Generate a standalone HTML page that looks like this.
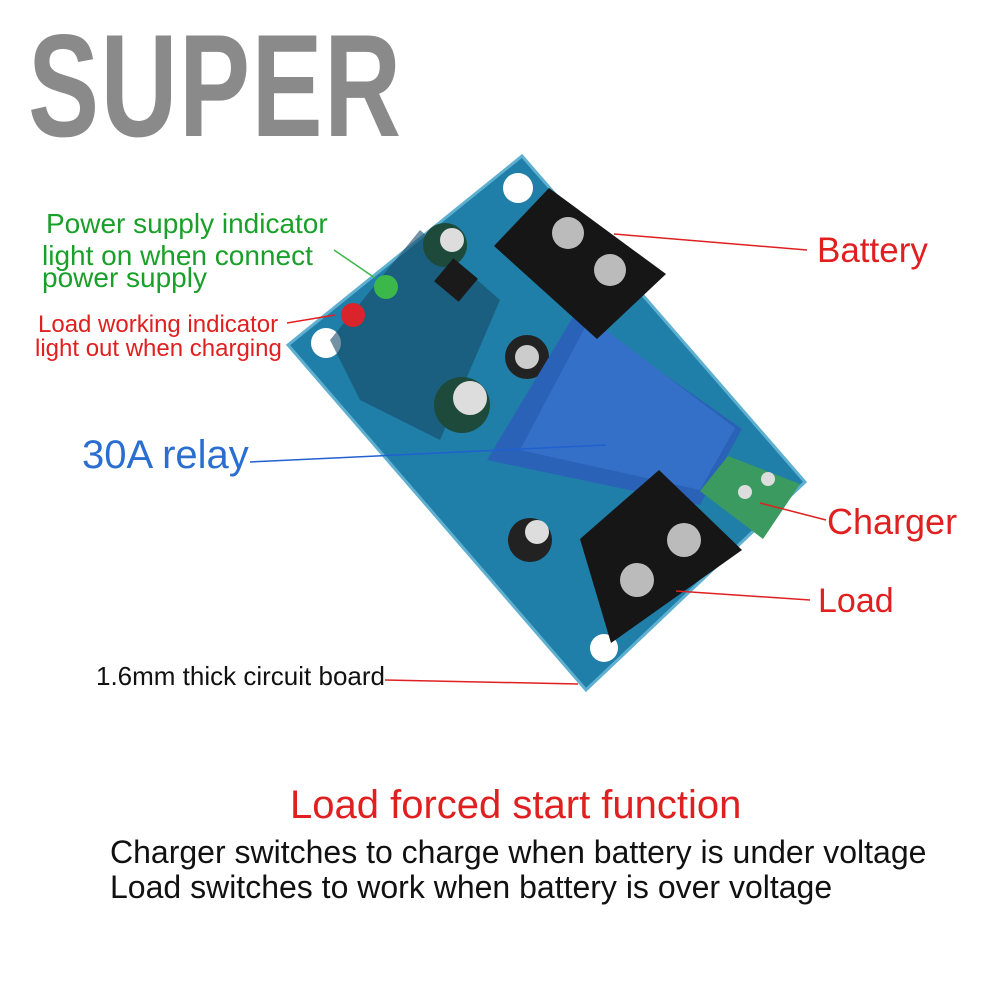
<!DOCTYPE html>
<html><head><style>
body{margin:0;width:1001px;height:1001px;background:#fff;position:relative;overflow:hidden;font-family:"Liberation Sans",sans-serif}
.t{position:absolute;white-space:nowrap}
</style></head><body>
<div class="t" style="left:28px;top:2px;font-size:146px;font-weight:bold;color:#8a8a8a;letter-spacing:2px;transform:scaleX(0.73);transform-origin:left top">SUPER</div>
<svg width="1001" height="1001" style="position:absolute;left:0;top:0">
<polygon points="522,156 805,482 586,690 288,345" fill="#1f7fa8"/>
<polygon points="522,156 805,482 586,690 288,345" fill="none" stroke="#5fb0d0" stroke-width="3"/>
<circle cx="518" cy="188" r="15" fill="#fff"/><circle cx="326" cy="343" r="15" fill="#fff"/><circle cx="604" cy="648" r="14" fill="#fff"/>
<polygon points="420,230 500,300 440,440 360,400 330,340" fill="#174a66" opacity="0.6"/>
<circle cx="445" cy="245" r="22" fill="#1d4a3a"/><circle cx="452" cy="240" r="12" fill="#ddd"/>
<circle cx="462" cy="405" r="28" fill="#1d4a3a"/><circle cx="470" cy="398" r="17" fill="#ddd"/>
<circle cx="527" cy="357" r="22" fill="#222"/><circle cx="527" cy="357" r="12" fill="#ccc"/>
<circle cx="530" cy="540" r="22" fill="#222"/><circle cx="537" cy="532" r="12" fill="#ddd"/>
<rect x="440" y="265" width="32" height="30" fill="#1a1a1a" transform="rotate(40 456 280)"/>
<circle cx="353" cy="315" r="12" fill="#d8242a"/><circle cx="386" cy="287" r="12" fill="#3cb84a"/>
<polygon points="576,312 742,429 700,505 487,460" fill="#2a62b8"/>
<polygon points="590,318 735,428 700,490 520,450" fill="#3570c8"/>
<polygon points="494,246 549,188 666,274 597,339" fill="#161616"/>
<circle cx="568" cy="233" r="16" fill="#bbb"/><circle cx="610" cy="270" r="16" fill="#bbb"/>
<polygon points="700,491 728,456 800,484 763,539" fill="#3a9a60"/>
<circle cx="745" cy="492" r="7" fill="#ddd"/><circle cx="768" cy="479" r="7" fill="#ddd"/>
<polygon points="580,539 659,470 742,550 611,643" fill="#161616"/>
<circle cx="637" cy="580" r="17" fill="#bbb"/><circle cx="684" cy="540" r="17" fill="#bbb"/>
<g stroke-width="1.5" fill="none">
<line x1="614" y1="234" x2="807" y2="250" stroke="#e02020"/>
<line x1="760" y1="503" x2="826" y2="520" stroke="#e02020"/>
<line x1="676" y1="591" x2="810" y2="600" stroke="#e02020"/>
<line x1="385" y1="680" x2="578" y2="684" stroke="#e02020"/>
<line x1="287" y1="323" x2="335" y2="315" stroke="#e02020"/>
<line x1="334" y1="250" x2="375" y2="278" stroke="#3cb84a"/>
<line x1="250" y1="462" x2="606" y2="445" stroke="#2060d0"/>
</g>
</svg>
<div class="t" style="left:46px;top:208px;font-size:28px;color:#1aa02a">Power supply indicator</div>
<div class="t" style="left:42px;top:240px;font-size:28px;color:#1aa02a">light on when connect</div>
<div class="t" style="left:42px;top:262px;font-size:28px;color:#1aa02a">power supply</div>
<div class="t" style="left:38px;top:311px;font-size:24px;color:#e02020">Load working indicator</div>
<div class="t" style="left:35px;top:335px;font-size:24px;color:#e02020">light out when charging</div>
<div class="t" style="left:82px;top:433px;font-size:40px;color:#2a6fd0">30A relay</div>
<div class="t" style="left:817px;top:231px;font-size:35px;color:#e02020">Battery</div>
<div class="t" style="left:827px;top:501px;font-size:36px;color:#e02020">Charger</div>
<div class="t" style="left:818px;top:582px;font-size:34px;color:#e02020">Load</div>
<div class="t" style="left:96px;top:661px;font-size:26px;color:#111">1.6mm thick circuit board</div>
<div class="t" style="left:290px;top:783px;font-size:40px;color:#e02020">Load forced start function</div>
<div class="t" style="left:110px;top:834px;font-size:32px;color:#111">Charger switches to charge when battery is under voltage</div>
<div class="t" style="left:110px;top:869px;font-size:32px;color:#111">Load switches to work when battery is over voltage</div>
</body></html>
